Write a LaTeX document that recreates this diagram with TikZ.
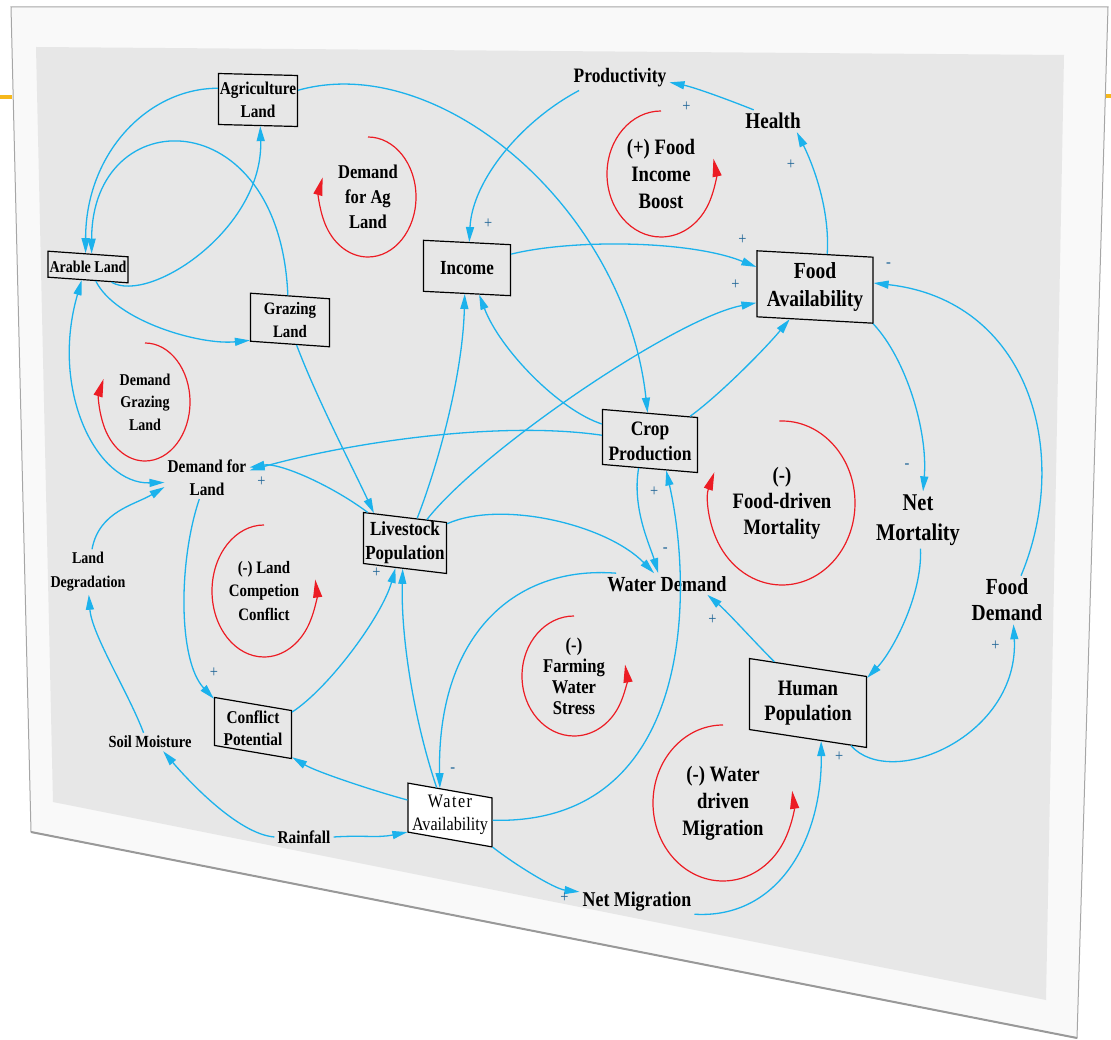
\documentclass[tikz,border=0pt]{standalone}
\usepackage{fontspec}
\setmainfont{Liberation Serif}[FakeStretch=0.85]
\usetikzlibrary{arrows.meta}
\definecolor{cldblue}{RGB}{28,178,236}
\definecolor{loopred}{RGB}{236,28,36}
\definecolor{boardgray}{RGB}{231,231,231}
\definecolor{framegray}{RGB}{249,249,249}
\definecolor{polblue}{RGB}{30,100,150}
\definecolor{slideorange}{RGB}{246,184,28}
\newcommand\txtsize[2]{\fontsize{#1}{#2}\selectfont}
\tikzset{
  var/.style={draw, line width=1.2pt, fill=boardgray, inner sep=0pt},
  vartext/.style={align=center, inner sep=0pt},
  aux/.style={align=center, inner sep=3pt},
  link/.style={cldblue, line width=1.3pt, -{Triangle[length=15pt,width=8pt]}},
  loopline/.style={loopred, line width=1.2pt, -{Triangle[length=18pt,width=9pt]}},
  pol/.style={text=polblue, font=\txtsize{17}{17}, inner sep=0pt},
}
\begin{document}
\begin{tikzpicture}[x=1pt,y=1pt]
\useasboundingbox (0,0) rectangle (1111,-1040);
% Board
\draw[slideorange, line width=4pt] (0,-97) -- (12,-97);
\draw[slideorange, line width=4pt] (1106,-96) -- (1111,-96);
\filldraw[fill=framegray, draw=gray!70, line width=1pt] (11,-7) -- (1108,-7) -- (1077,-1038) -- (31,-832) -- cycle;
\fill[boardgray] (36,-47) -- (1064,-55) -- (1046,-1000) -- (53,-802) -- cycle;
\draw[gray!80, line width=2pt] (31,-832) -- (1077,-1038);
% Stocks
\node[var, minimum width=79, minimum height=51, yslant=-0.025, label={[vartext, font=\bfseries\txtsize{18}{23}]center:Agriculture\\Land}] (agri) at (258,-100) {};
\node[var, minimum width=80, minimum height=26, yslant=-0.07, label={[vartext, font=\bfseries\txtsize{16.5}{20}]center:Arable Land}] (arable) at (88,-267) {};
\node[var, minimum width=79, minimum height=48, yslant=-0.07, label={[vartext, font=\bfseries\txtsize{17.5}{23}]center:Grazing\\Land}] (grazing) at (290,-320) {};
\node[var, minimum width=87, minimum height=51, yslant=-0.05, label={[vartext, font=\bfseries\txtsize{20}{24}]center:Income}] (income) at (467,-268) {};
\node[var, minimum width=116, minimum height=66, yslant=-0.055, label={[vartext, font=\bfseries\txtsize{23}{28}]center:Food\\Availability}] (food) at (815,-287) {};
\node[var, minimum width=95, minimum height=55, yslant=-0.085, label={[vartext, font=\bfseries\txtsize{20.5}{25}]center:Crop\\Production}] (crop) at (650,-441) {};
\node[var, minimum width=83, minimum height=51, yslant=-0.12, label={[vartext, font=\bfseries\txtsize{20}{24}]center:Livestock\\Population}] (livestock) at (405,-543) {};
\node[var, minimum width=77, minimum height=48, yslant=-0.17, label={[vartext, font=\bfseries\txtsize{18}{22}]center:Conflict\\Potential}] (conflict) at (253,-728) {};
\node[var, fill=white, minimum width=84, minimum height=49, yslant=-0.176, label={[vartext, font=\txtsize{19}{23}]center:{\addfontfeature{LetterSpace=8}Water}\\Availability}] (wateravail) at (450,-815) {};
\node[var, minimum width=117, minimum height=71, yslant=-0.153, label={[vartext, font=\bfseries\txtsize{22}{25}]center:Human\\Population}] (human) at (808,-703) {};
% Auxiliaries
\node[aux, font=\bfseries\txtsize{20.5}{24}] (prod) at (620,-78) {Productivity};
\node[aux, font=\bfseries\txtsize{22.5}{26}] (health) at (773,-121) {Health};
\node[aux, font=\bfseries\txtsize{18}{23}] (demland) at (207,-478) {Demand for\\Land};
\node[aux, font=\bfseries\txtsize{16.5}{24}] (landdeg) at (88,-572) {Land\\Degradation};
\node[aux, font=\bfseries\txtsize{17}{20}] (soil) at (150,-742) {Soil Moisture};
\node[aux, font=\bfseries\txtsize{18}{21}] (rain) at (304,-837) {Rainfall};
\node[aux, font=\bfseries\txtsize{21.5}{25}] (wdemand) at (667,-584) {Water Demand};
\node[aux, font=\bfseries\txtsize{24}{30}] (netmort) at (918,-520) {Net\\Mortality};
\node[aux, font=\bfseries\txtsize{23}{26}] (fooddem) at (1007,-600) {Food\\Demand};
\node[aux, font=\bfseries\txtsize{21}{25}] (netmig) at (637,-902) {Net Migration};
% Loop names
\node[aux, inner sep=0pt, font=\bfseries\txtsize{19.5}{25}] (loopag) at (368,-197) {Demand\\for Ag\\Land};
\node[aux, inner sep=0pt, font=\bfseries\txtsize{22}{27}] (loopincome) at (661,-174) {(+) Food\\Income\\Boost};
\node[aux, inner sep=0pt, font=\bfseries\txtsize{16.5}{22.5}] (loopgraze) at (145,-402) {Demand\\Grazing\\Land};
\node[aux, inner sep=0pt, font=\bfseries\txtsize{22}{26}] (loopmort) at (782,-503) {(-)\\Food-driven\\Mortality};
\node[aux, inner sep=0pt, font=\bfseries\txtsize{17.5}{23.5}] (loopconf) at (264,-591) {(-) Land\\Competion\\Conflict};
\node[aux, inner sep=0pt, font=\bfseries\txtsize{19.5}{21}] (loopwater) at (574,-676) {(-)\\Farming\\Water\\Stress};
\node[aux, inner sep=0pt, font=\bfseries\txtsize{22}{27}] (loopmig) at (723,-803) {(-) Water\\driven\\Migration};
% Loop arrows
\draw[loopline] ([shift={(90:48 and 60)}]loopag.center) arc[start angle=90, end angle=-199, x radius=48, y radius=60];
\draw[loopline] ([shift={(90:54 and 63)}]loopincome.center) arc[start angle=90, end angle=374, x radius=54, y radius=63];
\draw[loopline] ([shift={(90:45 and 59)}]loopgraze.center) arc[start angle=90, end angle=-203, x radius=45, y radius=59];
\draw[loopline] ([shift={(92:73 and 82)}]loopmort.center) arc[start angle=92, end angle=-202, x radius=73, y radius=82];
\draw[loopline] ([shift={(90:52 and 66)}]loopconf.center) arc[start angle=90, end angle=370, x radius=52, y radius=66];
\draw[loopline] ([shift={(90:52 and 60)}]loopwater.center) arc[start angle=90, end angle=371, x radius=52, y radius=60];
\draw[loopline] ([shift={(90:70 and 78)}]loopmig.center) arc[start angle=90, end angle=369, x radius=70, y radius=78];
% Land links
\draw[link] (agri.165) .. controls +(-70,0) and +(0,100) .. (arable.100);
\draw[link] (grazing.95) .. controls +(-8,196) and +(0,153) .. (arable.75);
\draw[link] (arable.-30) .. controls +(38,-22) and +(3,-103) .. (agri.-85);
\draw[link] (arable.-60) .. controls +(20,-40) and +(-50,-5) .. (grazing.-150);
\draw[link, {Triangle[length=15pt,width=8pt]}-{Triangle[length=15pt,width=8pt]}] (arable.-115) .. controls +(-32,-110) and +(-68,-2) .. (demland.186);
\draw[link] (landdeg.80) .. controls +(7,38) and +(-30,-18) .. (demland.192);
\draw[link] (soil.125) .. controls +(-15,40) and +(3,-40) .. (landdeg.-88);
\draw[link] (rain.west) .. controls +(-37,3) and +(24,-28) .. (soil.-35);
\draw[link] (rain.east) .. controls +(30,2) and +(-30,-6) .. (wateravail.-150);
\draw[link] (wateravail.170) .. controls +(-30,8) and +(25,-15) .. (conflict.-30);
\draw[link] (demland.-110) .. controls +(-21,-62) and +(-36,38) .. (conflict.150) node[pol, pos=1, yshift=26] {+};
\draw[link] (conflict.30) .. controls +(38,25) and +(-13,-47) .. (livestock.-110) node[pol, pos=1, xshift=-19, yshift=-5] {+};
\draw[link] (livestock.145) .. controls +(-36,27) and +(30,5) .. (demland.14) node[pol, pos=1, xshift=12, yshift=-14] {+};
\draw[link] (crop.178) .. controls +(-103,15) and +(100,28) .. (demland.10);
\draw[link] (grazing.-75) .. controls +(20,-53) and +(-20,43) .. (livestock.140);
\draw[link] (agri.15) .. controls +(142,40) and +(-22,203) .. (crop.95);
% Food and income links
\draw[link] (livestock.65) .. controls +(22,57) and +(-2,-80) .. (income.-95);
\draw[link] (crop.165) .. controls +(-43,14) and +(21,-55) .. (income.-65);
\draw[link] (livestock.50) .. controls +(55,70) and +(-80,-15) .. (food.-162) node[pol, pos=1, xshift=-21, yshift=18] {+};
\draw[link] (income.20) .. controls +(60,15) and +(-67,27) .. (food.164) node[pol, pos=1, xshift=-14, yshift=27] {+};
\draw[link] (crop.35) .. controls +(30,22) and +(-25,-30) .. (food.-127);
\draw[link] (prod.-163) .. controls +(-57,-30) and +(3,62) .. (income.85) node[pol, pos=1, xshift=19, yshift=18] {+};
\draw[link] (health.150) .. controls +(-25,10) and +(25,-5) .. (prod.-5) node[pol, pos=1, xshift=17, yshift=-24] {+};
\draw[link] (food.70) .. controls +(3,48) and +(14,-28) .. (health.-25) node[pol, pos=1, xshift=-6, yshift=-33] {+};
\draw[link] (food.-30) .. controls +(33,-35) and +(5,60) .. (netmort.80) node[pol, pos=1, xshift=-16, yshift=25] {-};
\draw[link] (fooddem.60) .. controls +(52,125) and +(154,-17) .. (food.7) node[pol, pos=1, xshift=15, yshift=18] {-};
% Population and water links
\draw[link] (netmort.-85) .. controls +(2,-47) and +(25,26) .. (human.30);
\draw[link] (human.-40) .. controls +(40,-45) and +(6,-112) .. (fooddem.-75) node[pol, pos=1, xshift=-18, yshift=-21] {+};
\draw[link] (human.133) .. controls +(-20,20) and +(20,-17) .. (wdemand.-15) node[pol, pos=1, xshift=5, yshift=-25] {+};
\draw[link] (crop.-112) .. controls +(-7,-40) and +(-8,27) .. (wdemand.129) node[pol, pos=1, xshift=7, yshift=23] {-};
\draw[link] (livestock.30) .. controls +(54,24) and +(-48,49) .. (wdemand.140);
\draw[link] (wdemand.168) .. controls +(-105,8) and +(-3,149) .. (wateravail.112) node[pol, pos=1, xshift=13, yshift=18] {-};
\draw[link] (wateravail.118) .. controls +(-22,65) and +(-2,-70) .. (livestock.-95);
\draw[link] (wateravail.-30) .. controls +(23,-18) and +(-25,3) .. (netmig.170) node[pol, pos=1, xshift=-15, yshift=-6] {+};
\draw[link] (netmig.-12) .. controls +(84,-5) and +(1,-98) .. (human.-70) node[pol, pos=1, xshift=18, yshift=-16] {+};
\draw[link] (wateravail.3) .. controls +(197,-5) and +(29,-130) .. (crop.-60) node[pol, pos=1, xshift=-12, yshift=-21] {+};
\end{tikzpicture}
\end{document}
